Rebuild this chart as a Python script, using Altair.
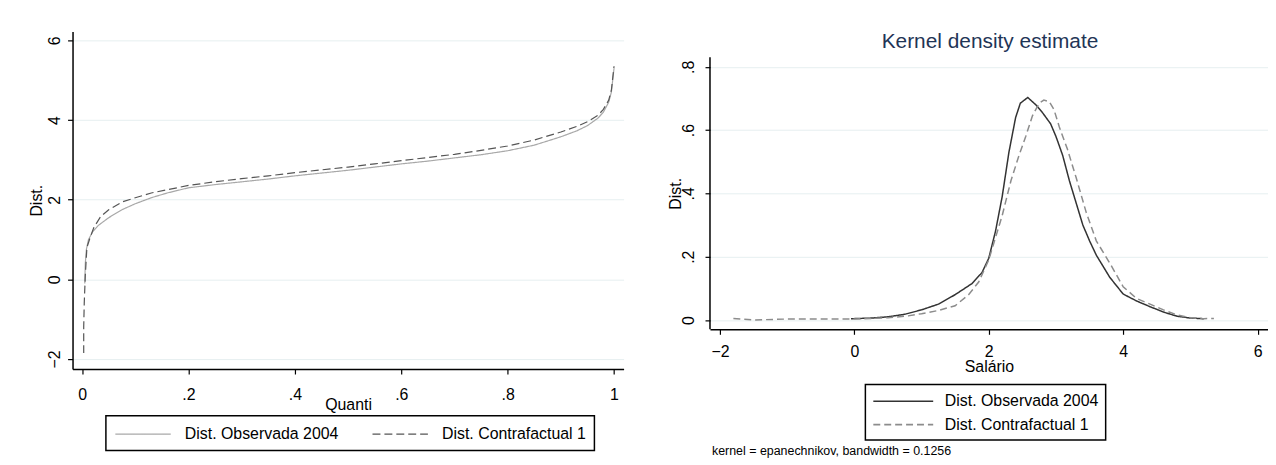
import altair as alt
import pandas as pd

# ---------------- data ----------------
series = ["Dist. Observada 2004", "Dist. Contrafactual 1"]

# left panel: quantile curves
quant_obs = [0.005, 0.006, 0.008, 0.012, 0.02, 0.03, 0.05, 0.075, 0.1, 0.13, 0.16, 0.2,
             0.25, 0.3, 0.35, 0.4, 0.45, 0.5, 0.55, 0.6, 0.65, 0.7, 0.75, 0.8, 0.85, 0.9,
             0.93, 0.95, 0.97, 0.98, 0.99, 0.995, 1.0]
dist_obs = [-0.1, 0.4, 0.75, 1.0, 1.2, 1.35, 1.55, 1.75, 1.9, 2.05, 2.17, 2.3,
            2.38, 2.45, 2.52, 2.6, 2.67, 2.74, 2.82, 2.9, 2.97, 3.05, 3.13, 3.23, 3.37, 3.58,
            3.73, 3.86, 4.05, 4.2, 4.45, 4.7, 5.3]
quant_cf = [0.003, 0.003, 0.004, 0.006, 0.009, 0.015, 0.022, 0.035, 0.05, 0.076, 0.1, 0.13,
            0.16, 0.2, 0.25, 0.3, 0.35, 0.4, 0.45, 0.5, 0.55, 0.6, 0.65, 0.7, 0.75, 0.8,
            0.85, 0.9, 0.93, 0.95, 0.97, 0.98, 0.99, 0.995, 1.0]
dist_cf = [-1.85, -1.2, -0.6, 0.1, 0.8, 1.05, 1.3, 1.58, 1.75, 1.95, 2.05, 2.17,
           2.25, 2.36, 2.45, 2.53, 2.6, 2.68, 2.75, 2.82, 2.9, 2.98, 3.06, 3.14, 3.24, 3.35,
           3.5, 3.7, 3.84, 3.96, 4.12, 4.27, 4.5, 4.75, 5.35]

# right panel: kernel densities
sal_obs = [-0.05, 0.25, 0.5, 0.75, 1.0, 1.25, 1.5, 1.75, 1.9, 2.0, 2.1, 2.2, 2.3, 2.4,
           2.47, 2.58, 2.7, 2.8, 2.92, 3.0, 3.1, 3.2, 3.3, 3.4, 3.5, 3.6, 3.8, 4.0, 4.2,
           4.4, 4.6, 4.8, 5.0, 5.2]
dens_obs = [0.004, 0.006, 0.01, 0.018, 0.032, 0.05, 0.08, 0.115, 0.15, 0.195, 0.28, 0.39,
            0.53, 0.64, 0.685, 0.703, 0.68, 0.655, 0.62, 0.58, 0.52, 0.44, 0.37, 0.3, 0.25,
            0.205, 0.135, 0.082, 0.06, 0.042, 0.025, 0.012, 0.006, 0.004]
sal_cf = [-1.8, -1.5, -1.0, -0.5, 0.0, 0.5, 0.8, 1.0, 1.25, 1.5, 1.7, 1.85, 2.0, 2.1, 2.2,
          2.33, 2.45, 2.55, 2.65, 2.75, 2.82, 2.9, 2.97, 3.05, 3.17, 3.3, 3.45, 3.6, 3.8,
          4.0, 4.2, 4.4, 4.6, 4.8, 5.0, 5.2, 5.35]
dens_cf = [0.005, 0.0, 0.003, 0.003, 0.003, 0.007, 0.013, 0.02, 0.03, 0.045, 0.08, 0.12,
           0.19, 0.26, 0.33, 0.44, 0.52, 0.58, 0.645, 0.685, 0.695, 0.69, 0.665, 0.61, 0.54,
           0.45, 0.34, 0.25, 0.18, 0.105, 0.068, 0.05, 0.032, 0.016, 0.007, 0.004, 0.005]

left_ticks_x = [0, 0.2, 0.4, 0.6, 0.8, 1]
left_ticks_y = [-2, 0, 2, 4, 6]
right_ticks_x = [-2, 0, 2, 4, 6]
right_ticks_y = [0, 0.2, 0.4, 0.6, 0.8]
right_title = "Kernel density estimate"
right_note = "kernel = epanechnikov, bandwidth = 0.1256"

# ---------------- tables ----------------
def frame(xs, ys, name):
    return pd.DataFrame({"x": xs, "y": ys, "serie": name, "ord": list(range(len(xs)))})

left_df = pd.concat([frame(quant_obs, dist_obs, series[0]),
                     frame(quant_cf, dist_cf, series[1])], ignore_index=True)
right_df = pd.concat([frame(sal_obs, dens_obs, series[0]),
                      frame(sal_cf, dens_cf, series[1])], ignore_index=True)

FONT = "Liberation Sans"
GRID = "#e6eff0"
DEC = "datum.value == 0 ? '0' : (datum.value == 1 ? '1' : replace(format(datum.value, '.1f'), '0.', '.'))"

# ---------------- left panel ----------------
leg_left = alt.Legend(
    title=None, orient="none", legendX=33.6, legendY=387,
    direction="horizontal", columns=2, columnPadding=31,
    symbolType="M -1 0 H 5.2", symbolSize=324, symbolStrokeWidth=1.2,
    labelFont=FONT, labelFontSize=16, labelColor="black", labelOffset=51, labelLimit=400,
    padding=8.5, strokeColor="black", fillColor="white",
)

left = alt.Chart(left_df).mark_line(strokeWidth=1.2).encode(
    x=alt.X("x:Q", scale=alt.Scale(domain=[-0.018, 1.018], nice=False, zero=False),
            axis=alt.Axis(values=left_ticks_x, labelExpr=DEC, labelPadding=13, tickSize=5,
                          title="Quanti", titlePadding=-6.5, grid=False)),
    y=alt.Y("y:Q", scale=alt.Scale(domain=[-2.25, 6.225], nice=False, zero=False),
            axis=alt.Axis(values=left_ticks_y, format="d", labelAngle=-90, labelAlign="center",
                          labelBaseline="bottom", labelPadding=5, tickSize=5,
                          title="Dist.", titlePadding=2, grid=True, gridColor=GRID)),
    color=alt.Color("serie:N", scale=alt.Scale(domain=series, range=["#a8a8a8", "#555555"]),
                    legend=leg_left),
    strokeDash=alt.StrokeDash("serie:N", scale=alt.Scale(domain=series, range=[[1, 0], [8, 4]]),
                              legend=leg_left),
    order=alt.Order("ord:Q"),
).properties(width=555, height=340)

# ---------------- right panel ----------------
leg_right = alt.Legend(
    title=None, orient="none", legendX=156.5, legendY=355.5,
    direction="vertical", rowPadding=5.5,
    symbolType="M -1 0 H 5.7", symbolSize=324, symbolStrokeWidth=1.6,
    labelFont=FONT, labelFontSize=16, labelColor="black", labelOffset=53, labelLimit=400,
    padding=7, strokeColor="black", fillColor="white",
)

right_lines = alt.Chart(right_df).mark_line(strokeWidth=1.5).encode(
    x=alt.X("x:Q", scale=alt.Scale(domain=[-2.148, 6.155], nice=False, zero=False),
            axis=alt.Axis(values=right_ticks_x, format="d", labelPadding=9, tickSize=5,
                          title="Salário", titlePadding=-1, grid=False)),
    y=alt.Y("y:Q", scale=alt.Scale(domain=[-0.0295, 0.9117], nice=False, zero=False),
            axis=alt.Axis(values=right_ticks_y, labelExpr=DEC, labelAngle=-90, labelAlign="center",
                          labelBaseline="bottom", labelPadding=9, tickSize=5, domain=False,
                          title="Dist.", titlePadding=-3, titleY=163, grid=True, gridColor=GRID)),
    color=alt.Color("serie:N", scale=alt.Scale(domain=series, range=["#333333", "#8c8c8c"]),
                    legend=leg_right),
    strokeDash=alt.StrokeDash("serie:N", scale=alt.Scale(domain=series, range=[[1, 0], [7, 4]]),
                              legend=leg_right),
    order=alt.Order("ord:Q"),
)

right_axis_line = alt.Chart(pd.DataFrame({"lo": [-0.0295], "hi": [0.83]})).mark_rule(
    color="black", strokeWidth=1.5
).encode(x=alt.value(0), y="lo:Q", y2="hi:Q")

right_title_text = alt.Chart(pd.DataFrame({"t": [right_title]})).mark_text(
    align="center", baseline="alphabetic", font=FONT, fontSize=21, color="#1f3556"
).encode(x=alt.value(282), y=alt.value(17), text="t:N")

right_note_text = alt.Chart(pd.DataFrame({"t": [right_note]})).mark_text(
    align="left", baseline="middle", font=FONT, fontSize=12.5, color="black"
).encode(x=alt.value(2), y=alt.value(423), text="t:N")

right = alt.layer(right_lines, right_axis_line, right_title_text, right_note_text).properties(
    width=562, height=300,
)

chart = alt.hconcat(left, right, spacing=44).resolve_scale(
    color="independent", strokeDash="independent"
).resolve_legend(
    color="independent", strokeDash="independent"
).properties(
    padding={"left": 21, "top": 22, "right": 0, "bottom": 0}
).configure_view(stroke=None).configure_axis(
    labelFont=FONT, titleFont=FONT, labelFontSize=16, titleFontSize=16,
    labelColor="black", titleColor="black", titleFontWeight="normal",
    domainColor="black", tickColor="black", domainWidth=1.5, tickWidth=1.2,
).configure_legend(strokeWidth=1.5)

chart.save("out.html", embed_options={"renderer": "svg", "actions": False})
